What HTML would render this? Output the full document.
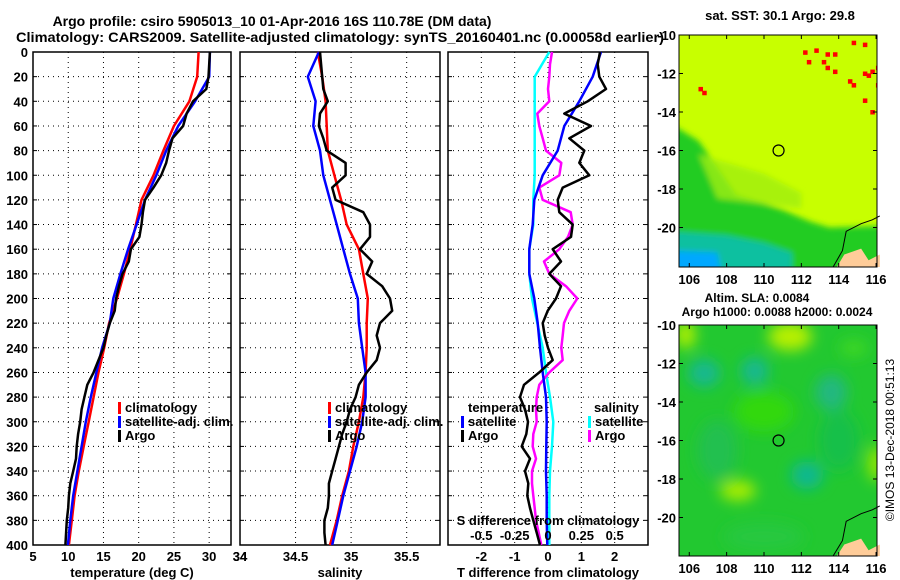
<!DOCTYPE html>
<html><head><meta charset="utf-8">
<style>
html,body{margin:0;padding:0;background:#fff;}
svg{display:block;font-family:"Liberation Sans",sans-serif;font-weight:bold;}
</style></head>
<body>
<svg id="chart" width="900" height="580" viewBox="0 0 900 580" xmlns="http://www.w3.org/2000/svg">
<defs>
<clipPath id="c1"><rect x="679" y="35" width="198" height="232"/></clipPath>
<clipPath id="c2"><rect x="679" y="325" width="198" height="231"/></clipPath>
<filter id="blur" x="-50%" y="-50%" width="200%" height="200%"><feGaussianBlur stdDeviation="7"/></filter>
<filter id="blur2" x="-50%" y="-50%" width="200%" height="200%"><feGaussianBlur stdDeviation="3"/></filter>
</defs>
<g font-size="14">
<text x="272" y="26" text-anchor="middle">Argo profile: csiro 5905013_10 01-Apr-2016 16S 110.78E (DM data)</text>
<text x="16" y="42" textLength="648" lengthAdjust="spacingAndGlyphs">Climatology: CARS2009. Satellite-adjusted climatology: synTS_20160401.nc (0.00058d earlier)</text>
</g>
<g id="panels"></g>
<g id="maps"></g>
<text transform="translate(894,440) rotate(-90)" text-anchor="middle" font-size="12" font-weight="normal">©IMOS 13-Dec-2018 00:51:13</text>
</svg>
<script>
const depths10 = [0,10,20,30,40,50,60,70,80,90,100,110,120,130,140,150,160,170,180,190,200,210,220,230,240,250,260,270,280,290,300,310,320,330,340,350,360,370,380,390,400];
const depths20 = [0,20,40,60,80,100,120,140,160,180,200,220,240,260,280,300,320,340,360,380,400];
const depthTicks = [0,20,40,60,80,100,120,140,160,180,200,220,240,260,280,300,320,340,360,380,400];
const tempTicks = [5,10,15,20,25,30];
const salTicks = [34,34.5,35,35.5];
const tdiffTicks = [-2,-1,0,1,2];
const sdiffTicks = [-0.5,-0.25,0,0.25,0.5];
const sdiffTickLabels = ["-0.5","-0.25","0","0.25","0.5"];

const tempClim = [28.5,28.3,27.2,25.0,23.5,22.1,20.4,19.6,18.8,17.9,16.9,15.8,15.1,14.3,13.6,12.9,12.2,11.5,10.9,10.5,10.1];
const tempSat = [30.1,30.0,28.0,25.6,23.9,22.5,20.9,19.7,18.5,17.4,16.4,15.9,14.8,14.0,13.2,12.5,11.9,11.3,10.7,10.3,9.95];
const tempArgo = [30.1,30.0,29.9,29.6,27.7,26.8,26.3,24.8,24.3,23.9,23.2,22.1,20.9,20.6,20.4,20.1,18.9,18.6,17.7,17.2,16.8,16.6,15.9,15.4,15.0,14.3,13.6,12.7,12.3,11.9,11.7,11.4,11.2,11.1,10.7,10.3,10.1,10.0,9.8,9.7,9.6];
const salClim = [34.70,34.74,34.77,34.78,34.79,34.85,34.91,34.96,35.07,35.11,35.15,35.14,35.14,35.13,35.11,35.07,35.02,34.98,34.92,34.87,34.81];
const salSat = [34.71,34.61,34.68,34.66,34.72,34.75,34.81,34.87,34.93,34.99,35.06,35.07,35.10,35.13,35.13,35.10,35.05,34.99,34.93,34.88,34.83];
const salArgo = [34.72,34.73,34.74,34.75,34.79,34.72,34.71,34.75,34.78,34.95,34.95,34.83,34.86,35.11,35.17,35.17,35.08,35.19,35.14,35.28,35.35,35.37,35.26,35.23,35.26,35.23,35.14,35.07,35.04,34.99,34.96,34.92,34.89,34.86,34.83,34.80,34.80,34.79,34.76,34.76,34.77];
const tdiffSat = [1.59,1.34,0.94,0.49,0.29,-0.16,-0.41,-0.46,-0.56,-0.56,-0.41,-0.31,-0.24,-0.16,-0.06,-0.04,-0.05,-0.06,-0.04,-0.04,-0.02];
const tdiffArgo = [1.56,1.49,1.54,1.74,1.19,0.49,1.29,0.64,1.09,0.94,1.24,0.44,0.29,0.34,0.74,0.69,0.14,0.39,0.04,0.39,0.24,-0.01,-0.16,-0.10,0.00,0.14,-0.26,-0.72,-0.84,-0.69,-0.60,-0.65,-0.79,-0.54,-0.69,-0.59,-0.62,-0.54,-0.44,-0.34,-0.24];
const sdiffSat = [0.01,-0.10,-0.10,-0.10,-0.10,-0.10,-0.11,-0.11,-0.14,-0.14,-0.12,-0.08,-0.04,-0.015,0.015,0.04,0.03,0.015,0.01,0.01,0.01];
const sdiffArgo = [0.03,0.015,0.01,0.0,0.01,-0.08,-0.065,-0.04,-0.015,0.10,0.085,-0.065,-0.04,0.17,0.185,0.15,0.085,-0.03,0.01,0.135,0.22,0.16,0.12,0.11,0.10,0.11,0.01,-0.065,-0.085,-0.09,-0.085,-0.11,-0.115,-0.09,-0.12,-0.12,-0.11,-0.10,-0.09,-0.07,-0.05];

const NS = "http://www.w3.org/2000/svg";
const Y0 = 52, Y1 = 545;
function yD(d){ return Y0 + d*(Y1-Y0)/400; }
function mk(tag, attrs, parent){
  const e = document.createElementNS(NS, tag);
  for (const k in attrs) e.setAttribute(k, attrs[k]);
  parent.appendChild(e); return e;
}
const P = document.getElementById('panels');
function lin(a,b,x0,x1){ return v => x0 + (v-a)*(x1-x0)/(b-a); }

const panels = [
  {name:'temperature-panel', x0:33, x1:231, sc:lin(5,33.1,33,231), ticks:tempTicks, labels:tempTicks.map(String), xlabel:'temperature (deg C)', xlx:132},
  {name:'salinity-panel', x0:240, x1:440, sc:lin(34,35.8,240,440), ticks:salTicks, labels:salTicks.map(String), xlabel:'salinity', xlx:340},
  {name:'difference-panel', x0:448, x1:648, sc:lin(-3,3,448,648), ticks:tdiffTicks, labels:tdiffTicks.map(String), xlabel:'T difference from climatology', xlx:548}
];
panels.forEach((p,i)=>{
  const g = mk('g',{},P);
  
  
  depthTicks.forEach(d=>{
    const gl = mk('line',{x1:p.x0,x2:p.x1,y1:yD(d),y2:yD(d),stroke:'#000','stroke-width':1,'stroke-dasharray':'1,4'},g);
    
    
    mk('line',{x1:p.x0,x2:p.x0+4,y1:yD(d),y2:yD(d),stroke:'#000'},g);
    mk('line',{x1:p.x1-4,x2:p.x1,y1:yD(d),y2:yD(d),stroke:'#000'},g);
    if(i===0){
      const t = mk('text',{x:28,y:yD(d)+5,'text-anchor':'end','font-size':13},g);
      
      
      t.textContent = d;
    }
  });
  p.ticks.forEach((v,j)=>{
    const x = p.sc(v);
    const gl = mk('line',{x1:x,x2:x,y1:Y0,y2:Y1,stroke:'#000','stroke-dasharray':'1,4'},g);
    
    
    const t = mk('text',{x:x,y:561,'text-anchor':'middle','font-size':13},g);
    
    
    t.textContent = p.labels[j];
  });
  mk('rect',{x:p.x0,y:Y0,width:p.x1-p.x0,height:Y1-Y0,fill:'none',stroke:'#000','stroke-width':1.5},g);
  const xl = mk('text',{x:p.xlx,y:577,'text-anchor':'middle','font-size':13},g);
  
  
  xl.textContent = p.xlabel;
});
// "34" label at right of temperature panel
(function(){
  const t = mk('text',{x:240,y:561,'text-anchor':'middle','font-size':13},P);
  
  
  t.textContent = '34';
})();

function series(vals, depths, sc, color, name){
  const pts = vals.map((v,k)=> sc(v).toFixed(1)+','+yD(depths[k]).toFixed(1)).join(' ');
  const l = mk('polyline',{points:pts,fill:'none',stroke:color,'stroke-width':2.5,'stroke-linejoin':'round'},P);
  
  
}
const scT = panels[0].sc, scS = panels[1].sc, scTd = panels[2].sc, scSd = lin(-0.75,0.75,448,648);
series(tempClim, depths20, scT, '#ff0000', 'temperature-climatology-line');
series(tempSat, depths20, scT, '#0000ff', 'temperature-satellite-line');
series(tempArgo, depths10, scT, '#000000', 'temperature-argo-line');
series(salClim, depths20, scS, '#ff0000', 'salinity-climatology-line');
series(salSat, depths20, scS, '#0000ff', 'salinity-satellite-line');
series(salArgo, depths10, scS, '#000000', 'salinity-argo-line');
series(sdiffSat, depths20, scSd, '#00ffff', 'salinity-diff-satellite-line');
series(sdiffArgo, depths10, scSd, '#ff00ff', 'salinity-diff-argo-line');
series(tdiffSat, depths20, scTd, '#0000ff', 'temperature-diff-satellite-line');
series(tdiffArgo, depths10, scTd, '#000000', 'temperature-diff-argo-line');

function legend(x,y,color,label,name){
  const g = mk('g',{},P);
  
  
  mk('rect',{x:x,y:y-10,width:3,height:12,fill:color},g);
  const t = mk('text',{x:x+7,y:y,'font-size':13},g);
  t.textContent = label;
}
legend(118,412,'#ff0000','climatology','legend-climatology');
legend(118,426,'#0000ff','satellite-adj. clim.','legend-satellite');
legend(118,440,'#000000','Argo','legend-argo');
legend(328,412,'#ff0000','climatology','legend-climatology-salinity');
legend(328,426,'#0000ff','satellite-adj. clim.','legend-satellite-salinity');
legend(328,440,'#000000','Argo','legend-argo-salinity');
(function(){
  const t = mk('text',{x:468,y:412,'font-size':13},P);
  
  
  t.textContent='temperature';
  const s = mk('text',{x:594,y:412,'font-size':13},P);
  
  
  s.textContent='salinity';
})();
legend(461,426,'#0000ff','satellite','legend-tdiff-satellite');
legend(461,440,'#000000','Argo','legend-tdiff-argo');
legend(588,426,'#00ffff','satellite','legend-sdiff-satellite');
legend(588,440,'#ff00ff','Argo','legend-sdiff-argo');
(function(){
  const t = mk('text',{x:548,y:525,'text-anchor':'middle','font-size':13},P);
  
  
  t.textContent='S difference from climatology';
  sdiffTicks.forEach((v,j)=>{
    const l = mk('text',{x:scSd(v),y:540,'text-anchor':'middle','font-size':13},P);
    
    
    l.textContent = sdiffTickLabels[j];
  });
})();

// ---- maps ----
const M = document.getElementById('maps');
const lonTicks = [106,108,110,112,114,116];
const latTicks = [-10,-12,-14,-16,-18,-20];
function mapFrame(top, clip, name){
  const g = mk('g',{},M);
  
  
  const lx = v => 679 + (v-105.45)*198/10.6;
  const ly = v => top + (-10 - v)*231/12;
  return {g,lx,ly};
}
function finishMap(m, top, bottom){
  const {g,lx,ly} = m;
  // land
  mk('path',{d:`M${lx(113.9)},${bottom} L${lx(114.3)},${ly(-21.4)} L${lx(115.2)},${ly(-21.1)} L${lx(115.6)},${ly(-21.7)} L${lx(116.2)},${ly(-21.4)} L${lx(116.2)},${bottom} Z`,fill:'#ffcc99'},g);
  mk('path',{d:`M${lx(113.7)},${bottom} L${lx(114.2)},${ly(-21.2)} L${lx(114.4)},${ly(-20.2)} L${lx(115.2)},${ly(-19.8)} L${lx(115.8)},${ly(-19.6)} L${lx(116.2)},${ly(-19.4)}`,fill:'none',stroke:'#000','stroke-width':1},g);
  const c = mk('circle',{cx:lx(110.78),cy:ly(-16),r:5.5,fill:'none',stroke:'#000','stroke-width':1.2},g);
  
  
  mk('rect',{x:679,y:top,width:198,height:bottom-top,fill:'none',stroke:'#000','stroke-width':1},g);
  lonTicks.forEach(v=>{
    mk('line',{x1:lx(v),x2:lx(v),y1:top,y2:top+4,stroke:'#000'},g);
    mk('line',{x1:lx(v),x2:lx(v),y1:bottom-4,y2:bottom,stroke:'#000'},g);
    const t = mk('text',{x:lx(v),y:bottom+17,'text-anchor':'middle','font-size':13},g);
    
    
    t.textContent = v;
  });
  latTicks.forEach(v=>{
    mk('line',{x1:679,x2:683,y1:ly(v),y2:ly(v),stroke:'#000'},g);
    mk('line',{x1:873,x2:877,y1:ly(v),y2:ly(v),stroke:'#000'},g);
    const t = mk('text',{x:676,y:ly(v)+5,'text-anchor':'end','font-size':13},g);
    
    
    t.textContent = v;
  });
}
// top SST map
(function(){
  const top=35,bottom=267;
  const m = mapFrame(top,'c1','sst-map');
  const {g,lx,ly} = m;
  const inner = mk('g',{'clip-path':'url(#c1)'},g);
  mk('rect',{x:679,y:top,width:198,height:bottom-top,fill:'#c8ff00'},inner);
  const blurG = mk('g',{filter:'url(#blur2)'},inner);
  mk('path',{d:`M670,${ly(-14.6)} L${lx(106.5)},${ly(-15.5)} L${lx(107.8)},${ly(-17.3)} L${lx(108.5)},${ly(-18.3)} L${lx(111)},${ly(-19.1)} L${lx(112.5)},${ly(-19.7)} L${lx(113.5)},${ly(-20.0)} L890,${ly(-19.9)} L890,280 L670,280 Z`,fill:'#22cc22'},blurG);
  mk('path',{d:`M670,${ly(-20.2)} L${lx(108)},${ly(-20.4)} L${lx(110)},${ly(-20.8)} L${lx(111.5)},${ly(-21.3)} L${lx(111.5)},280 L670,280 Z`,fill:'#11c0a0'},blurG);
  mk('path',{d:`M670,${ly(-21.2)} L${lx(107.5)},${ly(-21.3)} L${lx(107.8)},280 L670,280 Z`,fill:'#00a8ff'},blurG);
  mk('path',{d:`M${lx(106.5)},${ly(-16.2)} L${lx(110)},${ly(-17.2)} L${lx(112)},${ly(-18.2)} L${lx(112)},${ly(-19)} L${lx(107.5)},${ly(-18.5)} Z`,fill:'#a0ee10',opacity:0.8},blurG);
  const reds = [[112.2,-10.9],[112.8,-10.8],[113.4,-11.0],[113.2,-11.4],[113.4,-11.7],[113.8,-11.0],[113.8,-11.9],[114.8,-10.4],[115.4,-10.5],[115.4,-12.0],[115.6,-12.1],[116.1,-11.7],[115.8,-11.9],[114.8,-12.6],[114.6,-12.4],[116.1,-12.6],[115.4,-13.4],[115.8,-14.0],[106.6,-12.8],[106.8,-13.0],[112.4,-11.4]];
  reds.forEach(r=>{
    const e = mk('rect',{x:lx(r[0])-2,y:ly(r[1])-2,width:4.5,height:4.5,fill:'#ff0000'},inner);
  });
  finishMap(m,top,bottom);
  const t = mk('text',{x:780,y:20,'text-anchor':'middle','font-size':13},M);
  
  
  t.textContent='sat. SST: 30.1 Argo: 29.8';
})();
// bottom SLA map
(function(){
  const top=325,bottom=556;
  const m = mapFrame(top,'c2','sla-map');
  const {g,lx,ly} = m;
  const inner = mk('g',{'clip-path':'url(#c2)'},g);
  mk('rect',{x:679,y:top,width:198,height:bottom-top,fill:'#22c830'},inner);
  const bg = mk('g',{filter:'url(#blur)'},inner);
  const blobs = [
    [111.4,-10.6,22,14,'#b8f000'],[105.8,-10.5,10,14,'#b0f000'],[108.6,-18.6,18,10,'#aaee00'],
    [116,-17.2,8,18,'#99e800'],[110,-14.5,30,20,'#30d810'],[106.8,-12.5,16,14,'#18b890'],
    [109.5,-12.4,14,14,'#18b890'],[113.6,-13.5,16,18,'#20b880'],[112.3,-17.8,16,14,'#10b890'],
    [107.5,-16.5,20,30,'#20c050'],[114,-16,20,30,'#18c048'],[110,-21,40,14,'#28c840'],[114.8,-11.2,14,8,'#40d820']
  ];
  blobs.forEach(b=>{
    mk('ellipse',{cx:lx(b[0]),cy:ly(b[1]),rx:b[2],ry:b[3],fill:b[4]},bg);
  });
  finishMap(m,top,bottom);
  const t1 = mk('text',{x:757,y:302,'text-anchor':'middle','font-size':12},M);
  
  
  t1.textContent='Altim. SLA: 0.0084';
  const t2 = mk('text',{x:777,y:316,'text-anchor':'middle','font-size':12},M);
  
  
  t2.textContent='Argo h1000: 0.0088 h2000: 0.0024';
})();
</script>
</body></html>
